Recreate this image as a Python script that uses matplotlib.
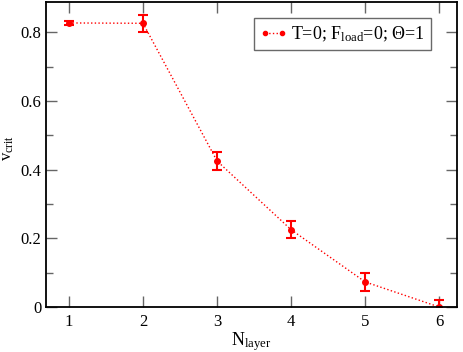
import matplotlib
matplotlib.use("Agg")
import matplotlib.pyplot as plt
from matplotlib.ticker import MultipleLocator, FuncFormatter
from matplotlib.lines import Line2D

n_layer = [1, 2, 3, 4, 5, 6]
v_crit = [0.827, 0.826, 0.425, 0.225, 0.073, 0.0]
v_err = [0.006, 0.025, 0.025, 0.025, 0.025, 0.02]

plt.rcParams['font.family'] = ['Liberation Serif', 'DejaVu Serif']
plt.rcParams['mathtext.fontset'] = 'custom'
plt.rcParams['mathtext.rm'] = 'Liberation Serif'
plt.rcParams['mathtext.it'] = 'Liberation Serif:italic'

fig = plt.figure(figsize=(4.63, 3.52), dpi=100)
ax = fig.add_axes([46/463, 1 - 307/352, (457-46)/463, (307-2)/352])

ax.errorbar(n_layer, v_crit, yerr=v_err, color='red', ls=':', lw=1,
            marker='o', ms=4, capsize=3.3, elinewidth=1.5, capthick=1.5)

ax.set_xlim(0.69, 6.24)
ax.set_ylim(0, 0.888)
ax.xaxis.set_major_locator(MultipleLocator(1))
ax.yaxis.set_major_locator(MultipleLocator(0.2))
ax.yaxis.set_minor_locator(MultipleLocator(0.1))
ax.yaxis.set_major_formatter(FuncFormatter(lambda v, p: '0' if abs(v) < 1e-9 else f'{v:g}'))
ax.tick_params(which='both', direction='in', top=True, right=True, labelsize=12, color='#666666')
ax.tick_params(which='major', length=8, width=1)
ax.tick_params(which='minor', length=5, width=1)
ax.tick_params(axis='x', pad=5)
for s in ax.spines.values():
    s.set_linewidth(1.3)

ax.set_xlabel(r'N$_{\mathregular{layer}}$', fontsize=13)
ax.xaxis.set_label_coords(0.5, -0.075)
ax.xaxis.label.set_va('top')
ax.set_ylabel(r'v$_{\mathregular{crit}}$', fontsize=12)
ax.yaxis.set_label_coords(-0.092, 0.52)
ax.yaxis.label.set_va('center')

handle = Line2D([0], [0], color='red', ls=':', lw=1, marker='o', ms=3,
                markerfacecolor='red', markeredgecolor='red')
leg = ax.legend([handle], [r'T=0; F$_{\mathregular{load}}$=0; $\mathregular{\Theta}$=1'],
                loc='upper right', bbox_to_anchor=(0.936, 0.947), fontsize=13, frameon=True,
                fancybox=False, edgecolor='#444444', handlelength=1.5, handletextpad=0.2,
                borderpad=0.35, numpoints=2, borderaxespad=0)
leg.get_frame().set_linewidth(1)

fig.savefig('out.png', dpi=100)
